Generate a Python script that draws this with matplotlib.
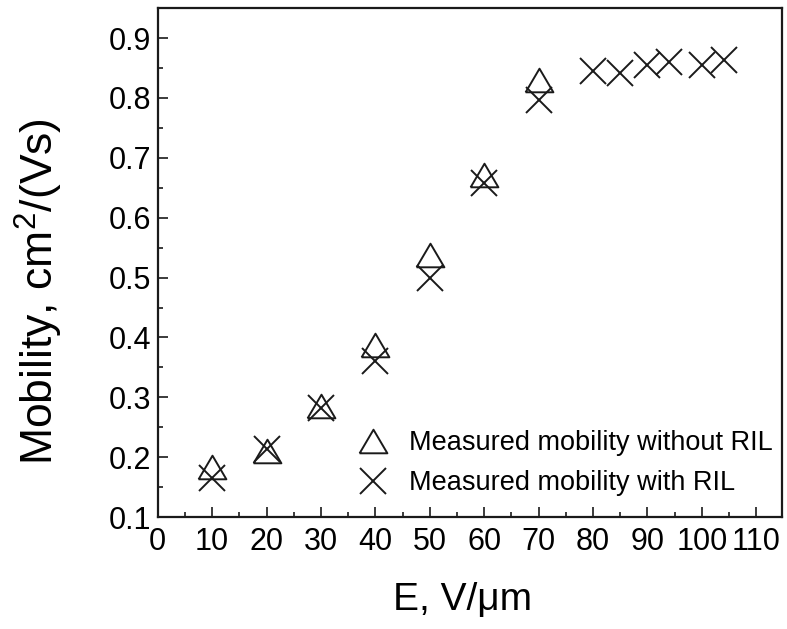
import numpy as np
import matplotlib
matplotlib.use("Agg")
import matplotlib.pyplot as plt

plt.rcParams['font.family'] = ['Liberation Sans', 'DejaVu Sans']
plt.rcParams['mathtext.fontset'] = 'custom'
plt.rcParams['mathtext.rm'] = 'Liberation Sans'
plt.rcParams['mathtext.it'] = 'Liberation Sans:italic'

# Data
e_without = [10, 20, 30, 40, 50, 60, 70]
mob_without = [0.183, 0.211, 0.285, 0.388, 0.537, 0.672, 0.830]

e_with = [10, 20, 30, 40, 50, 60, 70, 80, 85, 90, 94, 100, 104]
mob_with = [0.165, 0.213, 0.282, 0.361, 0.500, 0.658, 0.796,
            0.845, 0.841, 0.855, 0.860, 0.855, 0.863]

label_without = "Measured mobility without RIL"
label_with = "Measured mobility with RIL"

# triangle a bit wider than tall, like in the original
tri = [(-1, -0.85), (1, -0.85), (0, 0.85), (-1, -0.85)]

fig = plt.figure(figsize=(7.87, 6.29), dpi=100)
ax = fig.add_axes([0.2004, 0.178, 0.7929, 0.809])

ax.plot(e_without, mob_without, linestyle="none", marker=tri, markersize=20,
        markerfacecolor="none", markeredgecolor="#1a1a1a", markeredgewidth=1.4,
        label=label_without)
ax.plot(e_with, mob_with, linestyle="none", marker="x", markersize=19,
        markeredgecolor="#1a1a1a", markeredgewidth=1.4, label=label_with)

ax.set_xlim(0, 114.7)
ax.set_ylim(0.1, 0.95)
ax.set_xticks(np.arange(0, 111, 10))
ax.set_xticks(np.arange(5, 111, 10), minor=True)
ax.set_yticks(np.arange(0.1, 0.91, 0.1))
ax.set_yticks(np.arange(0.15, 0.91, 0.1), minor=True)
ax.set_yticklabels([f"{v:.1f}" for v in np.arange(0.1, 0.91, 0.1)])

ax.tick_params(which="both", direction="in", top=False, right=False, color="#1a1a1a")
ax.tick_params(which="major", length=7, width=1.2, labelsize=22, pad=5)
ax.tick_params(axis="x", which="major", pad=7)
ax.tick_params(which="minor", length=3.5, width=1.2)
for s in ax.spines.values():
    s.set_linewidth(1.6)
    s.set_color("#1a1a1a")

ax.set_xlabel(r"E, V/μm", fontsize=28)
ax.xaxis.set_label_coords(0.488, -0.128)
ax.set_ylabel(r"Mobility, cm$^2$/(Vs)", fontsize=32)
ax.yaxis.set_label_coords(-0.148, 0.443)

ax.legend(loc="lower left", bbox_to_anchor=(0.30, 0.02), frameon=False,
          fontsize=19.5, handlelength=1.3, handletextpad=0.65, labelspacing=0.5,
          borderaxespad=0)

fig.savefig("out.png", dpi=100)
